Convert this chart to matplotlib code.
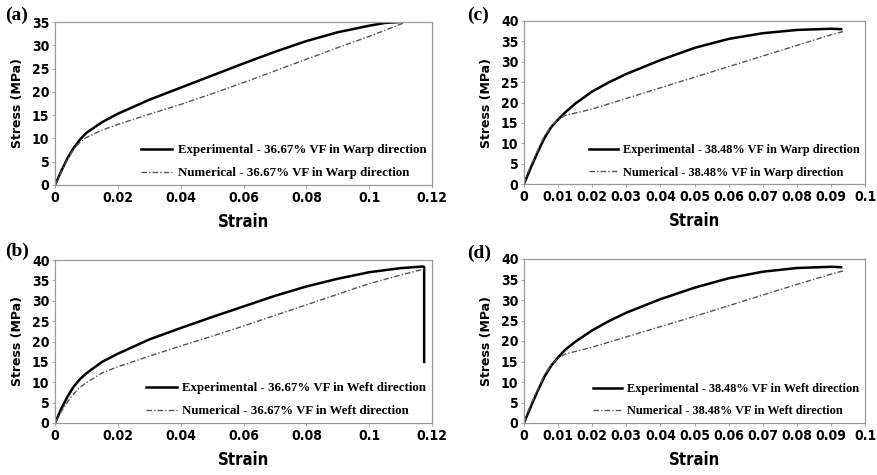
import matplotlib
matplotlib.use("Agg")
import matplotlib.pyplot as plt
from matplotlib import font_manager
from matplotlib.font_manager import FontProperties

W, H = 877, 475

# ---- data: stress-strain curves (strain, stress in MPa) ----
a_exp_x = [0, 0.002, 0.004, 0.006, 0.008, 0.01, 0.015, 0.02, 0.03, 0.04, 0.05, 0.06, 0.07, 0.08, 0.09, 0.1, 0.105, 0.11]
a_exp_y = [0, 3.0, 5.8, 8.0, 9.8, 11.2, 13.5, 15.3, 18.3, 20.9, 23.5, 26.1, 28.6, 30.9, 32.8, 34.2, 34.8, 35.0]
a_num_x = [0, 0.002, 0.004, 0.006, 0.008, 0.01, 0.015, 0.02, 0.03, 0.04, 0.05, 0.06, 0.07, 0.08, 0.09, 0.1, 0.111]
a_num_y = [0, 2.8, 5.5, 7.8, 9.2, 10.2, 11.8, 13.0, 15.2, 17.3, 19.6, 22.0, 24.5, 27.0, 29.5, 31.9, 34.8]

b_exp_x = [0, 0.002, 0.004, 0.006, 0.008, 0.01, 0.015, 0.02, 0.03, 0.04, 0.05, 0.06, 0.07, 0.08, 0.09, 0.1, 0.11, 0.117, 0.1175, 0.1175]
b_exp_y = [0, 3.5, 6.5, 9.0, 10.8, 12.2, 15.0, 17.0, 20.5, 23.3, 26.0, 28.6, 31.2, 33.5, 35.4, 37.0, 38.0, 38.4, 38.3, 15.0]
b_num_x = [0, 0.002, 0.004, 0.006, 0.008, 0.01, 0.015, 0.02, 0.03, 0.04, 0.05, 0.06, 0.07, 0.08, 0.09, 0.1, 0.11, 0.1175]
b_num_y = [0, 2.8, 5.2, 7.2, 8.8, 9.9, 12.3, 13.8, 16.4, 18.9, 21.3, 23.8, 26.4, 29.0, 31.6, 34.2, 36.3, 37.8]

c_exp_x = [0, 0.001, 0.002, 0.004, 0.006, 0.008, 0.01, 0.012, 0.015, 0.02, 0.025, 0.03, 0.04, 0.05, 0.06, 0.07, 0.08, 0.09, 0.093]
c_exp_y = [0, 2.0, 4.0, 7.8, 11.3, 14.0, 15.8, 17.5, 19.7, 22.7, 25.0, 27.0, 30.4, 33.4, 35.6, 37.0, 37.8, 38.1, 38.0]
c_num_x = [0, 0.001, 0.002, 0.004, 0.006, 0.008, 0.01, 0.012, 0.02, 0.03, 0.04, 0.05, 0.06, 0.07, 0.08, 0.09, 0.094]
c_num_y = [0, 2.5, 4.5, 8.2, 11.8, 14.2, 15.8, 16.8, 18.4, 21.0, 23.6, 26.2, 28.8, 31.4, 34.0, 36.6, 37.5]

d_exp_x = [0, 0.001, 0.002, 0.004, 0.006, 0.008, 0.01, 0.012, 0.015, 0.02, 0.025, 0.03, 0.04, 0.05, 0.06, 0.07, 0.08, 0.09, 0.093]
d_exp_y = [0, 2.0, 4.0, 7.8, 11.3, 14.0, 16.0, 17.8, 19.8, 22.6, 24.9, 26.9, 30.2, 33.0, 35.3, 36.9, 37.8, 38.1, 38.0]
d_num_x = [0, 0.001, 0.002, 0.004, 0.006, 0.008, 0.01, 0.012, 0.02, 0.03, 0.04, 0.05, 0.06, 0.07, 0.08, 0.09, 0.094]
d_num_y = [0, 2.5, 4.5, 8.2, 11.8, 14.2, 15.8, 16.8, 18.5, 21.0, 23.5, 26.0, 28.6, 31.2, 33.8, 36.3, 37.2]

a_labels = ["Experimental - 36.67% VF in Warp direction", "Numerical - 36.67% VF in Warp direction"]
b_labels = ["Experimental - 36.67% VF in Weft direction", "Numerical - 36.67% VF in Weft direction"]
c_labels = ["Experimental - 38.48% VF in Warp direction", "Numerical - 38.48% VF in Warp direction"]
d_labels = ["Experimental - 38.48% VF in Weft direction", "Numerical - 38.48% VF in Weft direction"]

xticks_ab = [0, 0.02, 0.04, 0.06, 0.08, 0.1, 0.12]
xticklabels_ab = ["0", "0.02", "0.04", "0.06", "0.08", "0.1", "0.12"]
xticks_cd = [0, 0.01, 0.02, 0.03, 0.04, 0.05, 0.06, 0.07, 0.08, 0.09, 0.1]
xticklabels_cd = ["0", "0.01", "0.02", "0.03", "0.04", "0.05", "0.06", "0.07", "0.08", "0.09", "0.1"]
yticks_a = [0, 5, 10, 15, 20, 25, 30, 35]
yticks_bcd = [0, 5, 10, 15, 20, 25, 30, 35, 40]

serif = "Liberation Serif"


# ---- condensed bold sans for ticks and axis labels ----
def condensed_bold(size):
    for f in font_manager.fontManager.ttflist:
        if (("Narrow" in f.name or f.stretch in ("condensed", "semi-condensed", 500 - 125))
                and f.weight in ("bold", 700) and f.style == "normal"
                and ("Sans" in f.name or "Roboto" in f.name or "Open" in f.name)):
            return FontProperties(fname=f.fname, size=size)
    for f in font_manager.fontManager.ttflist:
        if "Condensed" in f.fname and "Bold" in f.fname and "Oblique" not in f.fname \
                and "Italic" not in f.fname:
            return FontProperties(fname=f.fname, size=size)
    return FontProperties(family="Liberation Sans", weight="bold", size=size)


tick_fp = condensed_bold(10)
xlabel_fp = condensed_bold(12)

fig = plt.figure(figsize=(W / 100, H / 100), dpi=100)


def add_panel(px_left, px_right, px_top, px_bottom, ex, ey, nx, ny, labels,
              xmax, xticks, xticklabels, ymax, yticks, tag, tag_x, leg_size):
    ax = fig.add_axes([px_left / W, (H - px_bottom) / H,
                       (px_right - px_left) / W, (px_bottom - px_top) / H])
    ax.plot(ex, ey, color="black", lw=1.8, solid_joinstyle="round", label=labels[0])
    ax.plot(nx, ny, color="#555555", lw=1.0, dashes=(4, 1.5, 1, 1.5), label=labels[1])
    ax.set_xlim(0, xmax)
    ax.set_ylim(0, ymax)
    ax.set_xticks(xticks)
    ax.set_xticklabels(xticklabels)
    ax.set_yticks(yticks)
    for lab in ax.get_xticklabels() + ax.get_yticklabels():
        lab.set_fontproperties(tick_fp)
    ax.tick_params(length=2, width=0.6, color="#999999", pad=2)
    for s in ax.spines.values():
        s.set_color("#999999")
        s.set_linewidth(0.9)
    ax.set_xlabel("Strain", fontproperties=xlabel_fp, labelpad=6)
    ax.set_ylabel("Stress (MPa)", fontfamily="DejaVu Sans", fontweight="bold", fontsize=9, labelpad=6)
    ax.legend(loc="lower right", bbox_to_anchor=(1.0, 0.0), frameon=False,
              prop={"family": serif, "weight": "bold", "size": leg_size},
              handlelength=2.4, handletextpad=0.4, labelspacing=0.85,
              borderaxespad=0.05)
    fig.text(tag_x / W, (H - tag[1]) / H, tag[0], fontfamily=serif, fontweight="bold",
             fontsize=14, ha="left", va="center")
    return ax


add_panel(55, 432, 22, 185, a_exp_x, a_exp_y, a_num_x, a_num_y, a_labels,
          0.12, xticks_ab, xticklabels_ab, 35, yticks_a, ("(a)", 15), 5, 9.3)
add_panel(55, 432, 260, 423, b_exp_x, b_exp_y, b_num_x, b_num_y, b_labels,
          0.12, xticks_ab, xticklabels_ab, 40, yticks_bcd, ("(b)", 251), 5, 9.3)
add_panel(524, 865, 21, 184, c_exp_x, c_exp_y, c_num_x, c_num_y, c_labels,
          0.1, xticks_cd, xticklabels_cd, 40, yticks_bcd, ("(c)", 15), 467, 8.8)
add_panel(524, 865, 259, 423, d_exp_x, d_exp_y, d_num_x, d_num_y, d_labels,
          0.1, xticks_cd, xticklabels_cd, 40, yticks_bcd, ("(d)", 253), 467, 8.8)

fig.savefig("out.png", dpi=100)
